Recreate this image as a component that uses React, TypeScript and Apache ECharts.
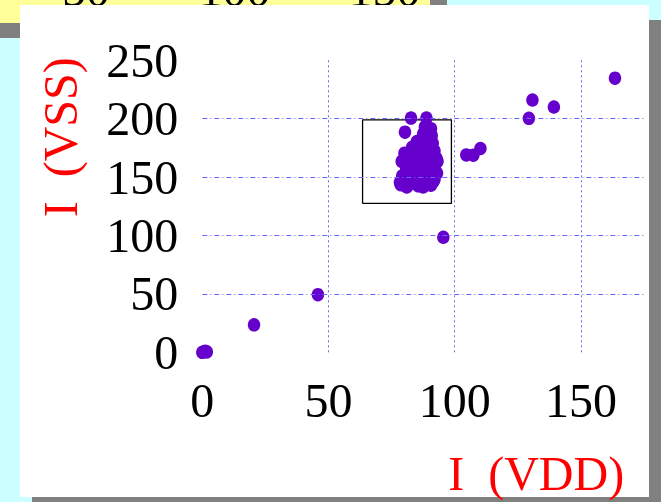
import React, { useEffect, useRef } from "react";
import * as echarts from "echarts";

const SERIF = '"Liberation Serif", "Times New Roman", serif';

const xMax = 175;
const yMax = 250;
const tickStep = 50;
const topStripLabels = ["50", "100", "150"];
const xAxisTitle = "I  (VDD)";
const yAxisTitle = "I  (VSS)";

const outlierPoints: [number, number][] = [
  [0, 0],
  [1.2, 1.0],
  [1.8, 0.3],
  [20.5, 23.5],
  [45.8, 49.3],
  [95.5, 98.5],
  [104.6, 169.0],
  [107.4, 168.8],
  [110.2, 174.5],
  [129.4, 200.3],
  [130.8, 216.0],
  [139.3, 210.0],
  [163.5, 234.7],
];

const clusterPoints: [number, number][] = [
  [82.7, 200.5], [88.8, 200.5], [80.3, 188.5],
  [88.2, 193.0], [90.6, 191.5], [87.5, 187.0], [90.9, 185.5], [89.4, 182.0],
  [85.0, 180.5], [87.8, 178.0], [91.3, 179.0], [83.1, 175.5], [86.0, 173.0],
  [89.6, 174.5], [92.0, 172.5], [80.1, 170.5], [82.6, 168.0], [85.2, 169.5],
  [88.0, 167.0], [90.7, 168.5], [92.8, 166.0], [79.0, 163.5], [81.7, 161.0],
  [84.3, 163.0], [86.9, 160.5], [89.5, 162.5], [92.2, 160.0], [93.2, 163.5],
  [80.8, 157.0], [83.4, 155.5], [86.1, 157.5], [88.7, 154.5], [91.4, 156.0],
  [93.0, 153.5], [79.2, 151.0], [81.9, 149.5], [84.6, 151.5], [87.3, 148.5],
  [89.9, 150.0], [92.0, 148.0], [78.3, 145.5], [80.5, 143.0], [83.0, 144.5],
  [85.6, 142.5], [88.2, 144.0], [90.6, 143.0], [91.5, 146.0], [81.0, 141.5],
  [87.5, 141.5], [78.6, 143.5],
];

const boxCorners: [number, number][] = [
  [63.5, 127.5],
  [98.7, 127.5],
  [98.7, 199.0],
  [63.5, 199.0],
  [63.5, 127.5],
];

export default function App() {
  const ref = useRef<HTMLDivElement>(null);

  useEffect(() => {
    if (!ref.current) return;
    const chart = echarts.init(ref.current, null, { renderer: "svg" });

    const gridColor = "#6666ff";
    const dotColor = "#6600cc";

    const stripCenters = [86, 234.5, 384.5];

    const graphics: any[] = [
      { type: "rect", z: -20, shape: { x: 0, y: 0, width: 661, height: 502 }, style: { fill: "#ccffff" } },
      { type: "rect", z: -19, shape: { x: 0, y: 0, width: 447, height: 38 }, style: { fill: "#808080" } },
      { type: "rect", z: -18, shape: { x: 0, y: 0, width: 430, height: 23 }, style: { fill: "#ffff99" } },
      ...topStripLabels.map((t, i) => ({
        type: "text",
        z: -17,
        x: stripCenters[i],
        y: -11,
        style: {
          text: t,
          fill: "#000",
          font: `48px ${SERIF}`,
          align: "center",
          verticalAlign: "middle",
        },
      })),
      { type: "rect", z: -16, shape: { x: 32, y: 20, width: 629, height: 482 }, style: { fill: "#808080" } },
      { type: "rect", z: -15, shape: { x: 20, y: 5, width: 629, height: 492 }, style: { fill: "#ffffff" } },
    ];

    chart.setOption({
      animation: false,
      graphic: graphics,
      grid: { left: 202.3, right: 17, top: 60.3, bottom: 146.7, containLabel: false },
      xAxis: {
        type: "value",
        min: 0,
        max: xMax,
        interval: tickStep,
        z: 5,
        axisLine: { show: false },
        axisTick: { show: false },
        axisLabel: {
          margin: 24,
          color: "#000",
          fontFamily: SERIF,
          fontSize: 48,
          showMaxLabel: false,
        },
        splitLine: {
          show: true,
          showMinLine: false,
          showMaxLine: false,
          lineStyle: { color: gridColor, width: 1, type: [2, 3] },
        },
        name: xAxisTitle,
        nameLocation: "middle",
        nameGap: 96.7,
        nameTextStyle: {
          color: "#ff0000",
          fontFamily: SERIF,
          fontSize: 48,
          padding: [0, 0, 0, 226],
        },
      },
      yAxis: {
        type: "value",
        min: 0,
        max: yMax,
        interval: tickStep,
        z: 5,
        axisLine: { show: false },
        axisTick: { show: false },
        axisLabel: {
          margin: 24,
          color: "#000",
          fontFamily: SERIF,
          fontSize: 48,
        },
        splitLine: {
          show: true,
          showMinLine: false,
          showMaxLine: false,
          lineStyle: { color: gridColor, width: 1, type: [5, 3, 1, 3] },
        },
        name: yAxisTitle,
        nameLocation: "middle",
        nameGap: 118,
        nameRotate: 90,
        nameTextStyle: {
          color: "#ff0000",
          fontFamily: SERIF,
          fontSize: 48,
          padding: [0, 0, 0, 138],
        },
      },
      series: [
        {
          type: "line",
          data: boxCorners,
          symbol: "none",
          z: 1,
          lineStyle: { color: "#000", width: 1.3 },
          silent: true,
        },
        {
          type: "scatter",
          data: outlierPoints,
          symbol: "circle",
          symbolSize: [12.5, 13.5],
          z: 3,
          itemStyle: { color: dotColor, opacity: 1 },
        },
        {
          type: "scatter",
          data: clusterPoints,
          symbol: "circle",
          symbolSize: [12.5, 13.5],
          z: 3,
          itemStyle: { color: dotColor, opacity: 1 },
        },
      ],
    });

    return () => chart.dispose();
  }, []);

  return (
    <div
      ref={ref}
      style={{ position: "fixed", left: 0, top: 0, width: 661, height: 502 }}
    />
  );
}
